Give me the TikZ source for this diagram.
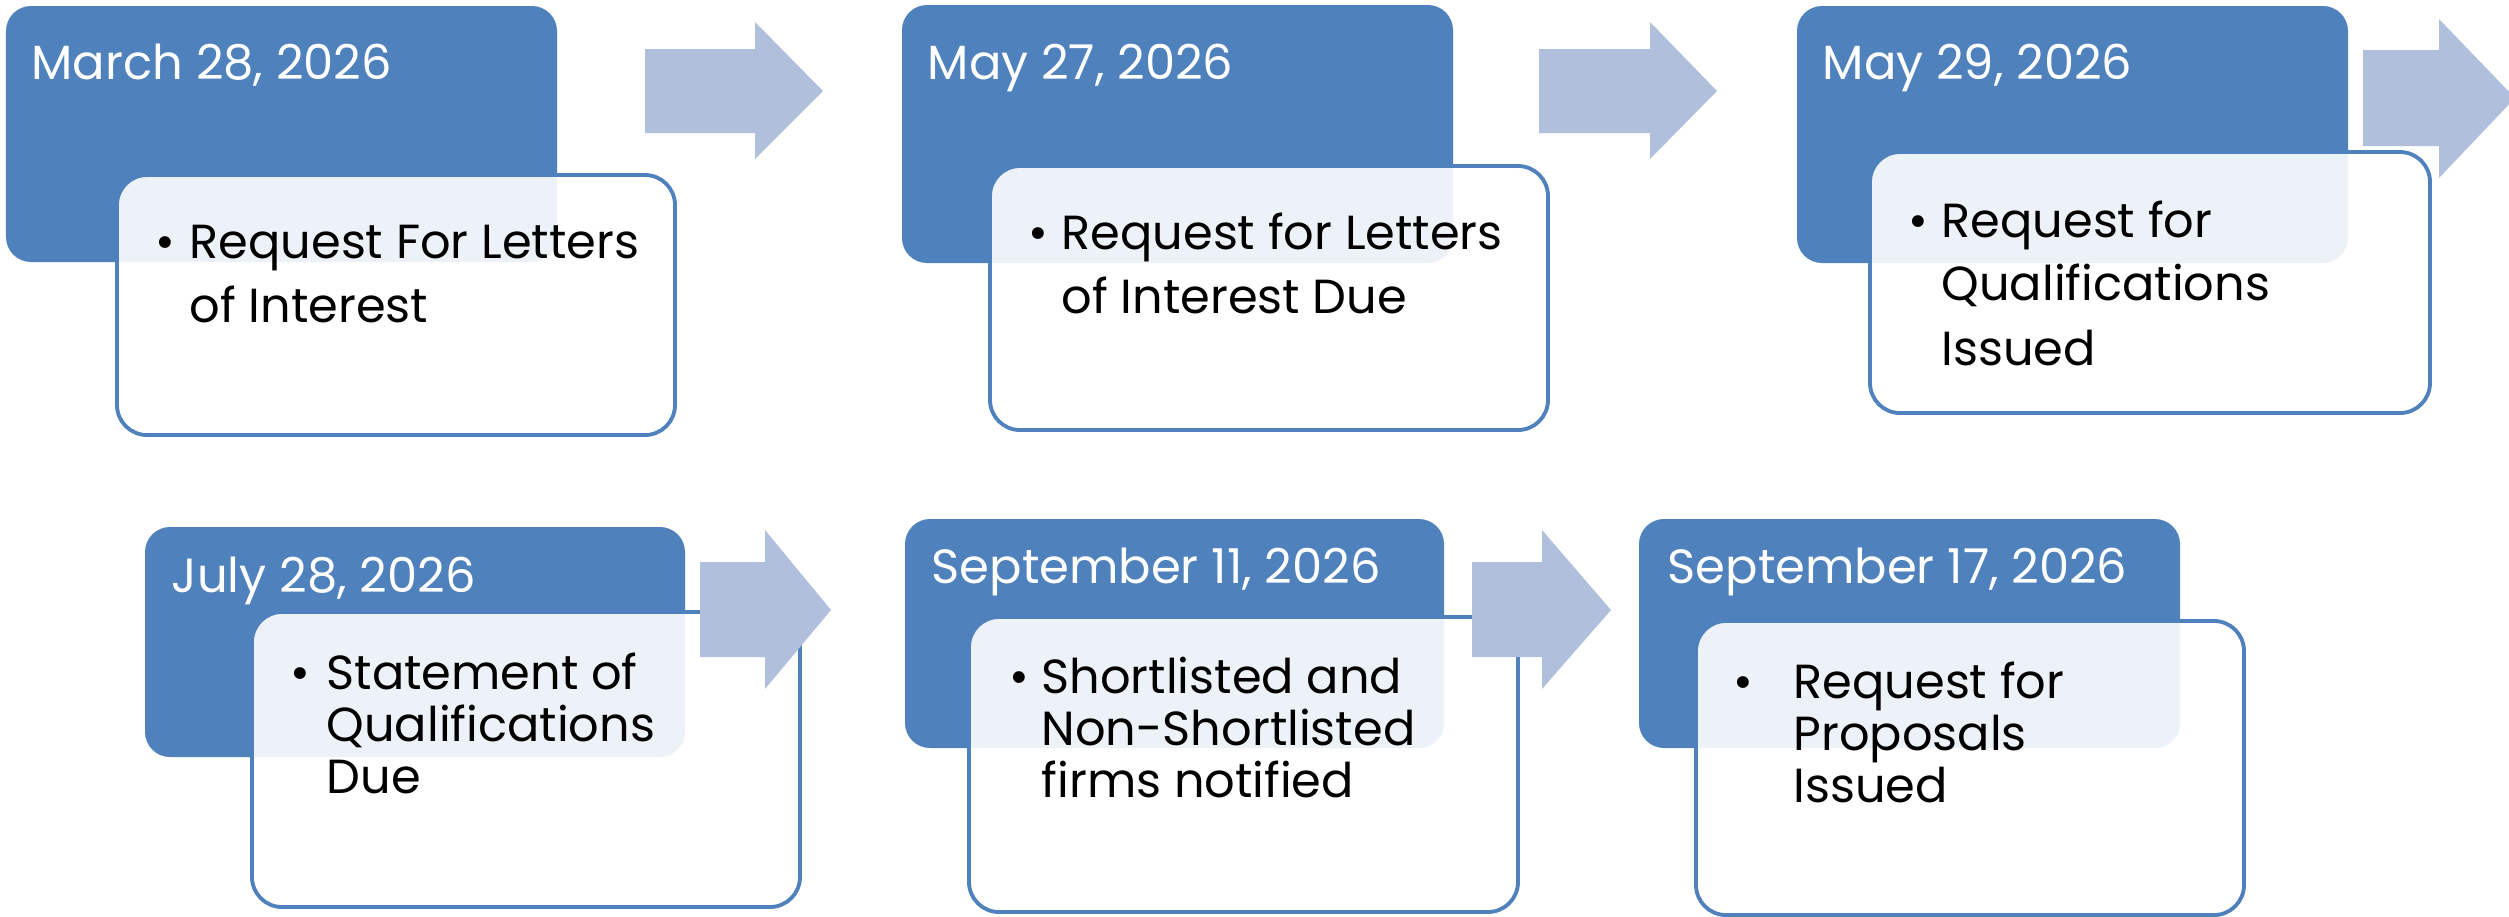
\documentclass[tikz,border=0pt]{standalone}
\usepackage{fontspec}
\setmainfont{Poppins}
\definecolor{dblue}{RGB}{79,129,189}
\definecolor{lblue}{RGB}{176,192,220}
\tikzset{
  datebox/.style={fill=dblue, rounded corners=7.5pt},
  itembox/.style={draw=dblue, line width=1.15pt, fill=white, fill opacity=0.9, rounded corners=9pt},
  datetext/.style={anchor=base west, inner sep=0pt, text=white, font=\fontsize{14.4}{17}\selectfont},
  itemtext/.style={anchor=base west, inner sep=0pt, text=black, font=\fontsize{14.35}{17}\selectfont},
  bullettext/.style={anchor=base west, inner sep=0pt, text=black, font=\fontsize{14.35}{17}\selectfont}
}
\tikzset{arrowshape/.style={fill=lblue}}
\begin{document}
\begin{tikzpicture}[x=0.3pt, y=-0.3pt]
\useasboundingbox (0,0) rectangle (2509,916);
% date boxes
\path[datebox] (6,6) rectangle (557,262);
\path[datebox] (902,5) rectangle (1453,263);
\path[datebox] (1797,6) rectangle (2348,263);
\path[datebox] (145,527) rectangle (685,757);
\path[datebox] (905,519) rectangle (1444,748);
\path[datebox] (1639,519) rectangle (2180,748);
% item boxes
\path[itembox] (117,175) rectangle (675,435);
\path[itembox] (990,166) rectangle (1548,430);
\path[itembox] (1870,152) rectangle (2430,413);
\path[itembox] (252,612) rectangle (800,907);
\path[itembox] (969,617) rectangle (1518,912);
\path[itembox] (1696,621) rectangle (2244,915);
% arrows
\fill[arrowshape] (645,49) -- (755,49) -- (755,22) -- (823,91) -- (755,159) -- (755,133) -- (645,133) -- cycle;
\fill[arrowshape] (1539,49) -- (1650,49) -- (1650,22) -- (1717,91) -- (1650,159) -- (1650,133) -- (1539,133) -- cycle;
\fill[arrowshape] (2363,50) -- (2439,50) -- (2439,19) -- (2515,98) -- (2439,178) -- (2439,146) -- (2363,146) -- cycle;
\fill[arrowshape] (700,562) -- (765,562) -- (765,530) -- (831,610) -- (765,689) -- (765,657) -- (700,657) -- cycle;
\fill[arrowshape] (1472,562) -- (1542,562) -- (1542,530) -- (1611,610) -- (1542,689) -- (1542,657) -- (1472,657) -- cycle;
% box 1
\node[datetext] (d1) at (31,79) {March 28, 2026};
\node[bullettext] (b1) at (155,258) {•};
\node[itemtext] (t1a) at (189,258) {Request For Letters};
\node[itemtext] (t1b) at (189,322) {of Interest};
% box 2
\node[datetext] (d2) at (927,79) {May 27, 2026};
\node[bullettext] (b2) at (1028,249) {•};
\node[itemtext] (t2a) at (1061,249) {Request for Letters};
\node[itemtext] (t2b) at (1061,313) {of Interest Due};
% box 3
\node[datetext] (d3) at (1822,79) {May 29, 2026};
\node[bullettext] (b3) at (1908,237) {•};
\node[itemtext] (t3a) at (1941,237) {Request for};
\node[itemtext] (t3b) at (1941,300) {Qualifications};
\node[itemtext] (t3c) at (1941,365) {Issued};
% box 4
\node[datetext] (d4) at (171,592) {July 28, 2026};
\node[bullettext] (b4) at (290,689) {•};
\node[itemtext] (t4a) at (326,689) {Statement of};
\node[itemtext] (t4b) at (326,741) {Qualifications};
\node[itemtext] (t4c) at (326,793) {Due};
% box 5
\node[datetext] (d5) at (931,583) {September 11, 2026};
\node[bullettext] (b5) at (1009,693) {•};
\node[itemtext] (t5a) at (1041,693) {Shortlisted and};
\node[itemtext] (t5b) at (1041,745) {Non-Shortlisted};
\node[itemtext] (t5c) at (1041,797) {firms notified};
% box 6
\node[datetext] (d6) at (1667,583) {September 17, 2026};
\node[bullettext] (b6) at (1733,698) {•};
\node[itemtext] (t6a) at (1793,698) {Request for};
\node[itemtext] (t6b) at (1793,750) {Proposals};
\node[itemtext] (t6c) at (1793,802) {Issued};
\end{tikzpicture}
\end{document}
